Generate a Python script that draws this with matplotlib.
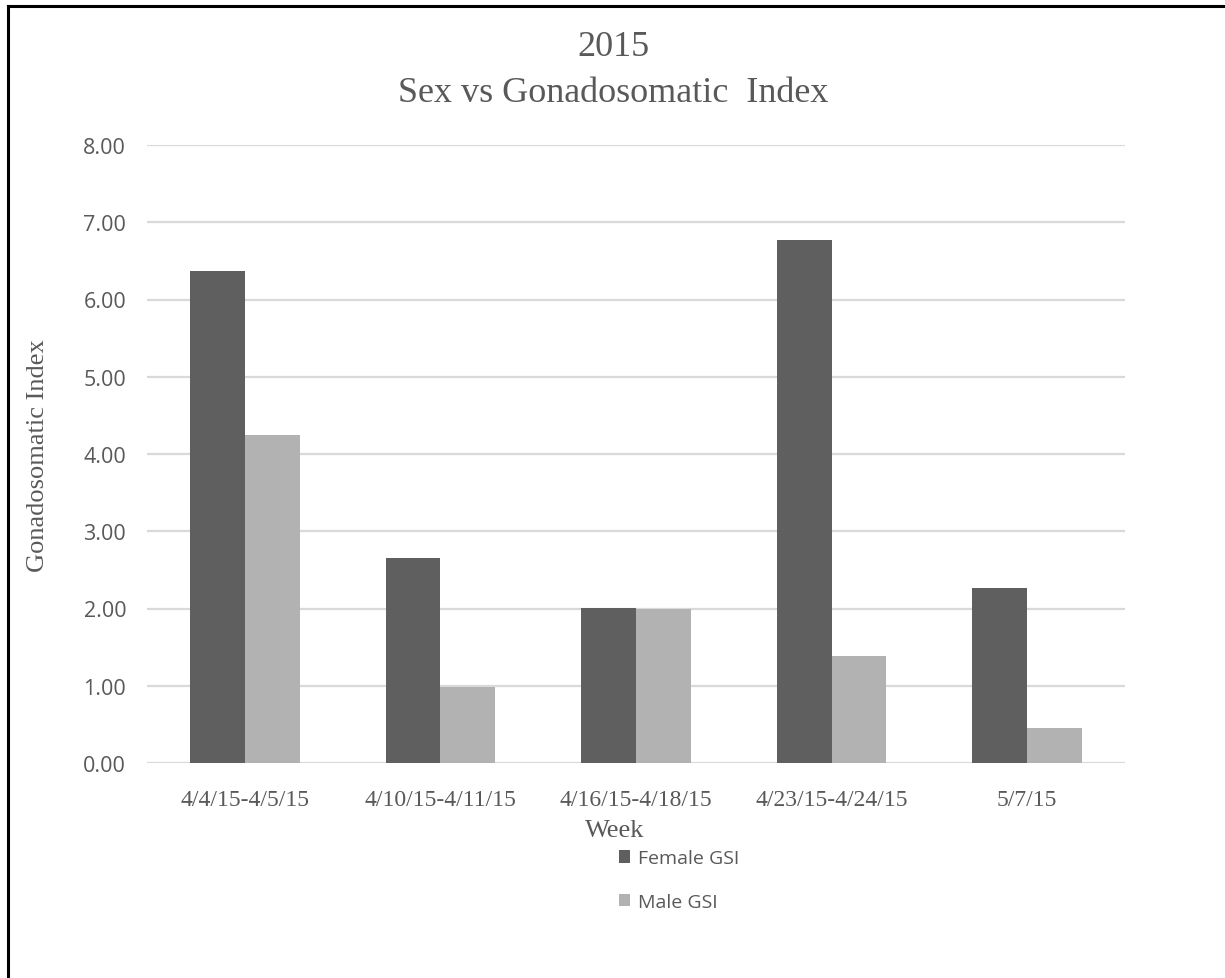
import numpy as np
import matplotlib.pyplot as plt
from matplotlib.lines import Line2D

weeks = ['4/4/15-4/5/15', '4/10/15-4/11/15', '4/16/15-4/18/15',
         '4/23/15-4/24/15', '5/7/15']
female_gsi = [6.37, 2.65, 2.01, 6.77, 2.27]
male_gsi = [4.25, 0.98, 1.99, 1.39, 0.45]
y_ticks = [0, 1, 2, 3, 4, 5, 6, 7, 8]

W, H = 1225, 979
fig = plt.figure(figsize=(W / 100, H / 100), dpi=100)

# plot area in pixel coords: x 147..1125, y 146..764
ax = fig.add_axes([147 / W, 1 - 764 / H, (1125 - 147) / W, (764 - 146) / H])

x = np.arange(len(weeks))
bw = 0.28
ax.bar(x - bw / 2, female_gsi, bw, color='#5f5f5f', label='Female GSI', zorder=3)
ax.bar(x + bw / 2, male_gsi, bw, color='#b2b2b2', label='Male GSI', zorder=3)

ax.set_xlim(-0.5, len(weeks) - 0.5)
ax.set_ylim(0, 8)
ax.set_yticks(y_ticks)
ax.set_yticklabels([f'{v:.2f}' for v in y_ticks], family='Open Sans',
                   fontsize=15.5, color='#595959')
ax.set_xticks(x)
ax.set_xticklabels(weeks, family='Liberation Serif', fontsize=17,
                   color='#595959')
ax.tick_params(axis='x', length=0, pad=19)
ax.tick_params(axis='y', length=0, pad=15)
ax.grid(axis='y', color='#d9d9d9', linewidth=1.6, zorder=0)
for s in ax.spines.values():
    s.set_visible(False)

fig.text(38 / W, 1 - 456 / H, 'Gonadosomatic Index', rotation=90,
         ha='center', va='center', family='Liberation Serif', fontsize=19,
         color='#595959')
fig.text(615 / W, 1 - 831 / H, 'Week', ha='center', va='center',
         family='Liberation Serif', fontsize=19, color='#595959')
fig.text(613 / W, 1 - 47 / H, '2015', ha='center', va='center',
         family='Liberation Serif', fontsize=26, color='#595959')
fig.text(613 / W, 1 - 93 / H, 'Sex vs Gonadosomatic  Index', ha='center',
         va='center', family='Liberation Serif', fontsize=26, color='#595959')

leg = fig.legend(loc='center', bbox_to_anchor=(679 / W, 1 - 881 / H),
                 ncol=1, frameon=False, handlelength=0.6, handleheight=0.6,
                 handletextpad=0.4, labelspacing=1.3,
                 prop={'family': 'Open Sans', 'size': 14})
for t in leg.get_texts():
    t.set_color('#595959')

# frame lines along the top and left edges
fig.add_artist(Line2D([8 / W, 1], [1 - 7 / H, 1 - 7 / H], color='black',
                      linewidth=2.2, transform=fig.transFigure))
fig.add_artist(Line2D([8 / W, 8 / W], [0, 1 - 7 / H], color='black',
                      linewidth=2.2, transform=fig.transFigure))

fig.savefig('out.png', dpi=100)
